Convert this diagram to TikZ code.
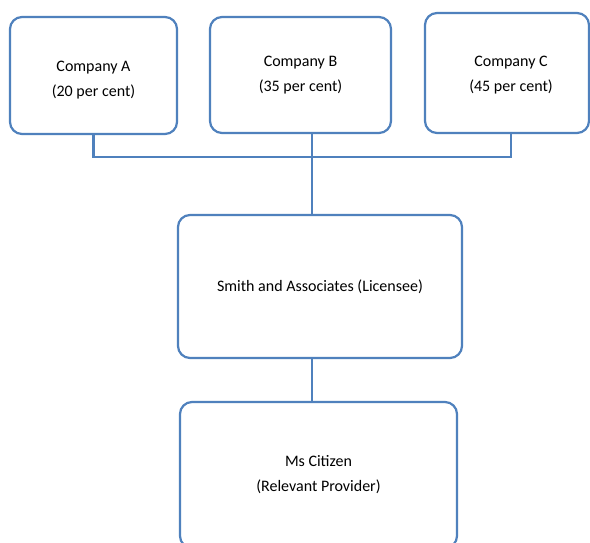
\documentclass[tikz,border=0pt]{standalone}
\usepackage{fontspec}
\setmainfont{Carlito}
\usepackage{tikz}
\usetikzlibrary{positioning}
\definecolor{boxblue}{HTML}{4F81BD}

\begin{document}
\begin{tikzpicture}[x=1pt,y=-1pt,
    entity/.style={draw=boxblue,line width=2.2pt,rounded corners=12pt,fill=white,
        align=center,inner sep=0pt,font=\fontsize{16}{25}\selectfont},
    link/.style={draw=boxblue,line width=2.2pt}]
    \clip (0,0) rectangle (590,543);
    \fill[white] (0,0) rectangle (590,543);

    \node[entity,minimum width=167pt,minimum height=117pt] (compA) at (93.5,75.5) {\rule{0pt}{19pt}Company A\\(20 per cent)};
    \node[entity,minimum width=181pt,minimum height=116pt] (compB) at (300.5,75) {Company B\\(35 per cent)};
    \node[entity,minimum width=164pt,minimum height=120pt] (compC) at (507,73) {\rule{0pt}{15pt}\hspace*{8pt}Company C\\\hspace*{8pt}(45 per cent)};
    \node[entity,minimum width=284pt,minimum height=143pt] (smith) at (320,286.5) {Smith and Associates (Licensee)};
    \node[entity,minimum width=277pt,minimum height=146pt] (citizen) at (318.5,475) {Ms Citizen\\(Relevant Provider)};

    \coordinate (junction) at (312,157);
    \coordinate (dropC) at ([xshift=4pt]compC.south);

    \path[link]
    (compA.south) -- (compA.south |- junction) -- (dropC |- junction) -- (dropC)
    (compB.south -| junction) -- (smith.north -| junction)
    (smith.south -| junction) -- (citizen.north -| junction);
\end{tikzpicture}
\end{document}
